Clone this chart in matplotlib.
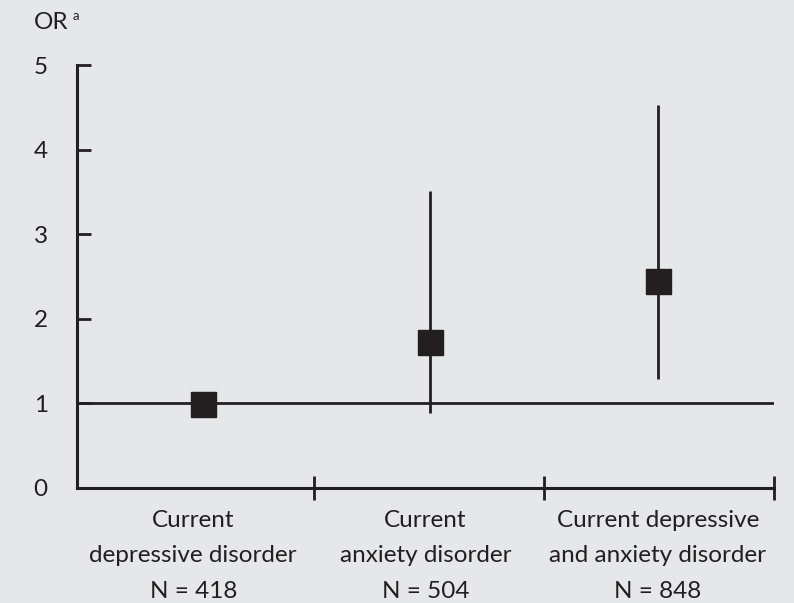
import matplotlib
matplotlib.use("Agg")
import matplotlib.pyplot as plt

# odds ratios with confidence intervals
groups = ["Current\ndepressive disorder", "Current\nanxiety disorder",
          "Current depressive\nand anxiety disorder"]
n_sizes = [418, 504, 848]
odds_ratio = [0.99, 1.72, 2.45]
ci_low = [0.90, 0.88, 1.29]
ci_high = [1.08, 3.51, 4.53]

ink = "#231f20"
bg = "#e6e7e8"

plt.rcParams["font.family"] = ["Lato", "DejaVu Sans"]

fig = plt.figure(figsize=(7.94, 6.03), dpi=100, facecolor=bg)
ax = fig.add_axes([0.097, 0.191, 0.878, 0.701], facecolor=bg)

# marker positions sit near the middle of each category cell
x_pos = [0.54, 1.52, 2.5]
err = [[o - lo for o, lo in zip(odds_ratio, ci_low)],
       [hi - o for o, hi in zip(odds_ratio, ci_high)]]

ax.axhline(1, color=ink, lw=2.0, zorder=1)
ax.errorbar(x_pos, odds_ratio, yerr=err, fmt="s", color=ink, ms=18,
            elinewidth=2.0, capsize=0, zorder=3)

ax.set_xlim(0, 3)
ax.set_ylim(0, 5)
ax.set_yticks(range(6))
ax.set_xticks([1.02, 2.01, 3])
ax.set_xticklabels([])

for s in ["top", "right"]:
    ax.spines[s].set_visible(False)
for s in ["left", "bottom"]:
    ax.spines[s].set_linewidth(2.2)
    ax.spines[s].set_color(ink)

ax.tick_params(axis="y", direction="in", length=10, width=2.0, color=ink,
               labelsize=17.5, labelcolor=ink, pad=21)
ax.tick_params(axis="x", direction="inout", length=17, width=2.0, color=ink)

for i, (g, n) in enumerate(zip(groups, n_sizes)):
    ax.annotate(f"{g}\nN = {n}", xy=(i + 0.5, 0), xycoords=("data", "axes fraction"),
                xytext=(0, -49), textcoords="offset points", ha="center", va="center",
                fontsize=17.5, color=ink, linespacing=1.84)

fig.text(0.043, 0.963, "OR", fontsize=17.5, color=ink, ha="left", va="center")
fig.text(0.091, 0.973, "a", fontsize=9.5, color=ink, ha="left", va="center")

fig.savefig("out.png", dpi=100, facecolor=bg)
